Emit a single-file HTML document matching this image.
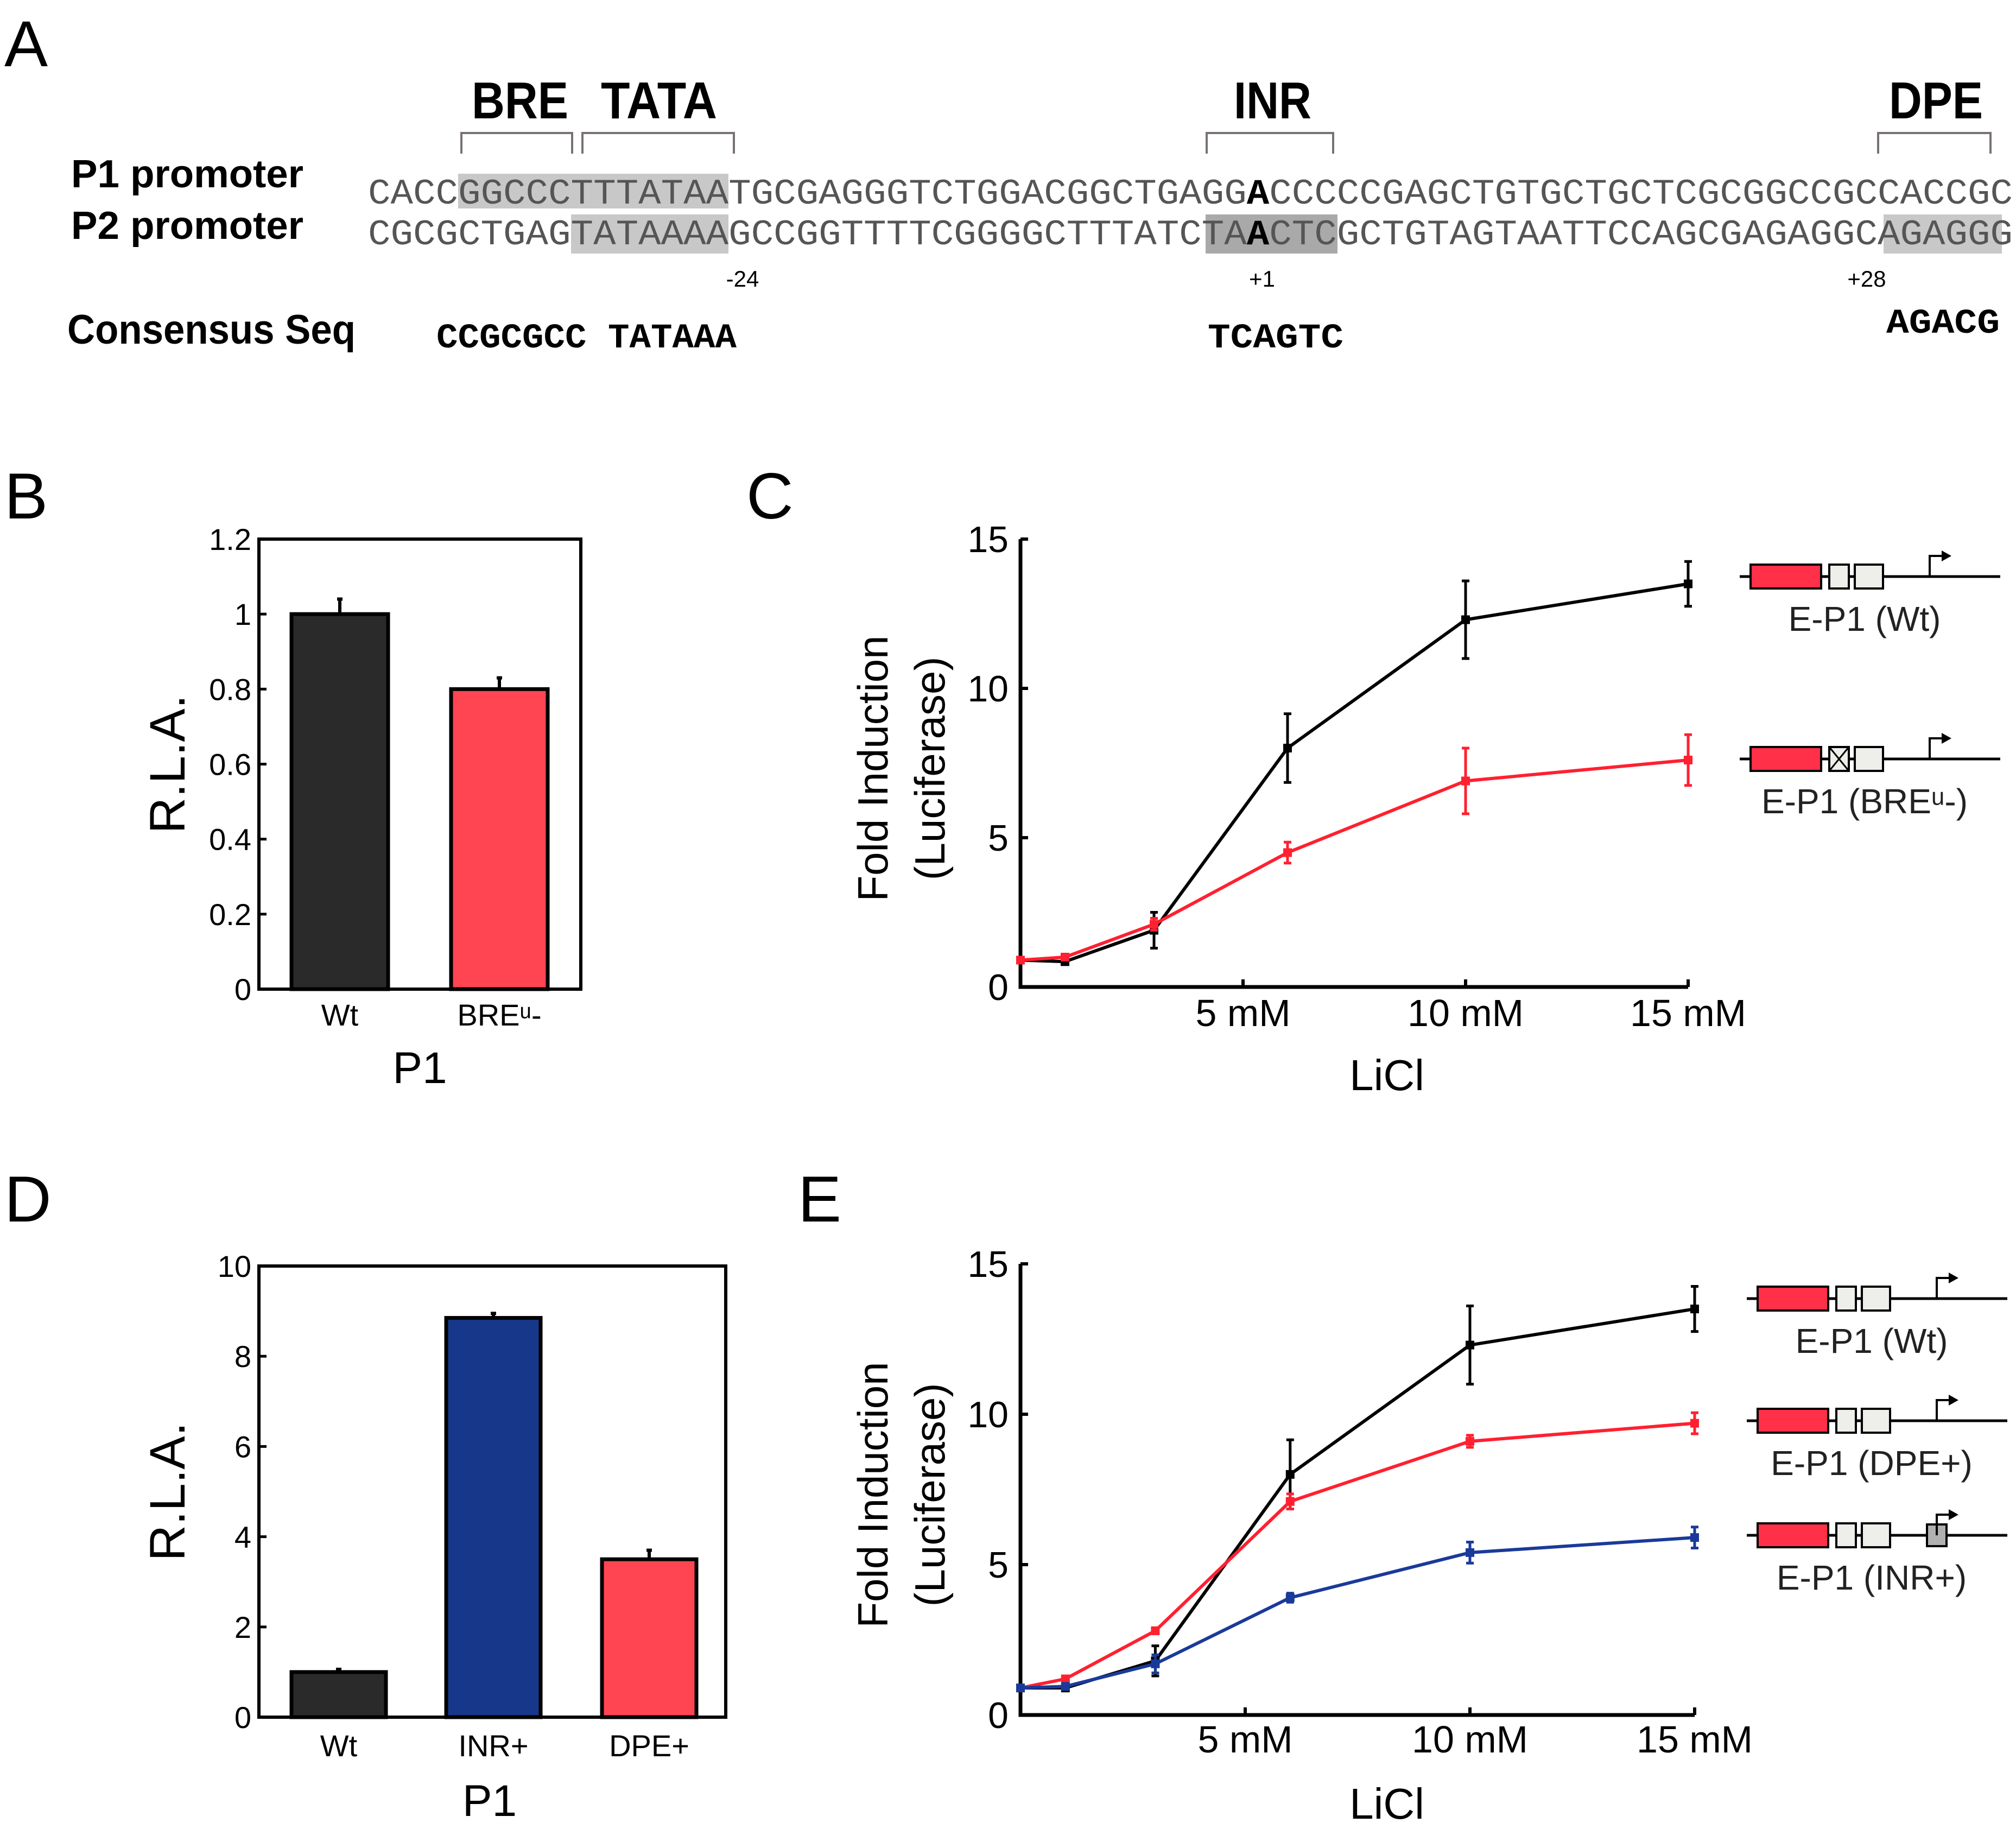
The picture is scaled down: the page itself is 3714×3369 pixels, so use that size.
<!DOCTYPE html>
<html><head><meta charset="utf-8"><style>
html,body{margin:0;padding:0;background:#fff}
svg{display:block}
text{font-family:"Liberation Sans",sans-serif}
.mono{font-family:"Liberation Mono",monospace}
</style></head><body>
<svg id="fig" width="3714" height="3369" viewBox="0 0 3714 3369" xmlns="http://www.w3.org/2000/svg">
<rect width="3714" height="3369" fill="#fff"/>
<!-- Panel letters -->
<text x="8" y="122" font-size="120">A</text>
<text x="8" y="955" font-size="120">B</text>
<text x="1375" y="955" font-size="120">C</text>
<text x="8" y="2250" font-size="120">D</text>
<text x="1470" y="2250" font-size="120">E</text>

<!-- Panel A -->
<g>
<text x="869" y="218" font-size="96" font-weight="bold" textLength="178" lengthAdjust="spacingAndGlyphs">BRE</text>
<text x="1107" y="218" font-size="96" font-weight="bold" textLength="214" lengthAdjust="spacingAndGlyphs">TATA</text>
<text x="2273" y="218" font-size="96" font-weight="bold" textLength="143" lengthAdjust="spacingAndGlyphs">INR</text>
<text x="3480" y="218" font-size="96" font-weight="bold" textLength="173" lengthAdjust="spacingAndGlyphs">DPE</text>
<g fill="none" stroke="#7a7272" stroke-width="4">
<path d="M850 283V245H1054V283"/><path d="M1073 283V245H1352V283"/><path d="M2223 283V245H2456V283"/><path d="M3460 283V245H3667V283"/>
</g>
<rect x="844" y="320" width="498" height="64" fill="#c8c8c8"/>
<rect x="1052" y="395" width="290" height="72" fill="#c8c8c8"/>
<rect x="2221" y="395" width="243" height="72" fill="#a9a9a9"/>
<rect x="3470" y="395" width="218" height="72" fill="#c8c8c8"/>
<text x="131" y="345" font-size="72" font-weight="bold" textLength="428" lengthAdjust="spacingAndGlyphs">P1 promoter</text>
<text x="131" y="440" font-size="72" font-weight="bold" textLength="428" lengthAdjust="spacingAndGlyphs">P2 promoter</text>
<text class="mono" x="678" y="375" font-size="66" fill="#555" textLength="3030" lengthAdjust="spacingAndGlyphs">CACCGGCCCTTTATAATGCGAGGGTCTGGACGGCTGAGG<tspan fill="#000" font-weight="bold">A</tspan>CCCCCGAGCTGTGCTGCTCGCGGCCGCCACCGC</text>
<text class="mono" x="678" y="450" font-size="66" fill="#555" textLength="3030" lengthAdjust="spacingAndGlyphs">CGCGCTGAGTATAAAAGCCGGTTTTCGGGGCTTTATCTA<tspan fill="#000" font-weight="bold">A</tspan>CTCGCTGTAGTAATTCCAGCGAGAGGCAGAGGG</text>
<text x="1368" y="528" font-size="42" text-anchor="middle">-24</text>
<text x="2325" y="528" font-size="42" text-anchor="middle">+1</text>
<text x="3439" y="528" font-size="42" text-anchor="middle">+28</text>
<text x="124" y="633" font-size="76" font-weight="bold" textLength="531" lengthAdjust="spacingAndGlyphs">Consensus Seq</text>
<text class="mono" x="804" y="640" font-size="64" font-weight="bold" textLength="553" lengthAdjust="spacingAndGlyphs">CCGCGCC TATAAA</text>
<text class="mono" x="2225" y="640" font-size="64" font-weight="bold" textLength="250" lengthAdjust="spacingAndGlyphs">TCAGTC</text>
<text class="mono" x="3475" y="613" font-size="64" font-weight="bold" textLength="209" lengthAdjust="spacingAndGlyphs">AGACG</text>
</g>

<g id="panelB"></g>
<g id="panelD"></g>
<g id="panelC"></g>
<g id="panelE"></g>

<!-- Legends / constructs -->
<g id="legends"></g>
</svg>
<script>
// ---- Data ----
const barBCategories = ["Wt", "BREᵘ-"];
const barBValues = [1.0, 0.8];
const barBErrors = [0.04, 0.03];
const barBTicks = ["0", "0.2", "0.4", "0.6", "0.8", "1", "1.2"];

const barDCategories = ["Wt", "INR+", "DPE+"];
const barDValues = [1.0, 8.85, 3.5];
const barDErrors = [0.06, 0.1, 0.2];
const barDTicks = ["0", "2", "4", "6", "8", "10"];

const doseX = [0, 1, 3, 6, 10, 15];
const lineTicksY = [0, 5, 10, 15];
const lineTicksX = [5, 10, 15];
const cWt = [0.9, 0.85, 1.9, 8.0, 12.3, 13.5];
const cWtErr = [0, 0.1, 0.6, 1.15, 1.3, 0.75];
const cBre = [0.9, 1.0, 2.1, 4.5, 6.9, 7.6];
const cBreErr = [0, 0.1, 0.2, 0.35, 1.1, 0.85];
const eWt = [0.9, 0.9, 1.8, 8.0, 12.3, 13.5];
const eWtErr = [0, 0.1, 0.5, 1.15, 1.3, 0.75];
const eDpe = [0.9, 1.2, 2.8, 7.1, 9.1, 9.7];
const eDpeErr = [0, 0.1, 0.1, 0.25, 0.2, 0.35];
const eInr = [0.9, 0.95, 1.7, 3.9, 5.4, 5.9];
const eInrErr = [0, 0.1, 0.3, 0.15, 0.35, 0.35];

const NS = "http://www.w3.org/2000/svg";
function mk(parent, tag, attrs, text) {
  const e = document.createElementNS(NS, tag);
  for (const k in attrs) e.setAttribute(k, attrs[k]);
  if (text !== undefined) e.textContent = text;
  parent.appendChild(e);
  return e;
}

function barChart(gid, box, ymax, cats, vals, errs, ticks, colors, barL, barW, rlaY, p1Y, catY) {
  const g = document.getElementById(gid);
  const y = v => box.b - (v / ymax) * (box.b - box.t);
  vals.forEach((v, i) => {
    const r = mk(g, 'rect', {x: barL[i], y: y(v), width: barW, height: box.b - y(v), fill: colors[i], stroke: '#000', 'stroke-width': 7});
    
    
    const cx = barL[i] + barW / 2;
    const eb = mk(g, 'path', {d: `M${cx} ${y(v)}V${y(v + errs[i])}M${cx - 5} ${y(v + errs[i])}H${cx + 5}`, stroke: '#000', 'stroke-width': 6, fill: 'none'});
    
    
    const t = mk(g, 'text', {x: cx, y: catY, 'font-size': 56, 'text-anchor': 'middle'}, cats[i]);
    
    
  });
  const fr = mk(g, 'rect', {x: box.l, y: box.t, width: box.r - box.l, height: box.b - box.t, fill: 'none', stroke: '#000', 'stroke-width': 6});
  
  
  ticks.forEach(tk => {
    const v = parseFloat(tk);
    mk(g, 'line', {x1: box.l, x2: box.l + 14, y1: y(v), y2: y(v), stroke: '#000', 'stroke-width': 5});
    const t = mk(g, 'text', {x: box.l - 14, y: y(v) + 20, 'font-size': 56, 'text-anchor': 'end'}, tk);
    
    
  });
  const yt = mk(g, 'text', {x: 0, y: 0, 'font-size': 92, 'text-anchor': 'middle', transform: `translate(340 ${(box.t + box.b) / 2}) rotate(-90)`}, 'R.L.A.');
  
  
  const xt = mk(g, 'text', {x: (box.l + box.r) / 2 + (gid === 'panelB' ? 0 : -5), y: p1Y, 'font-size': 82, 'text-anchor': 'middle'}, 'P1');
  
  
}

barChart('panelB', {l: 477, r: 1070, t: 993, b: 1822}, 1.2, barBCategories, barBValues, barBErrors, barBTicks,
  ['#2a2a2a', '#ff4452'], [537, 831], 178, 1354, 1995, 1889);
barChart('panelD', {l: 477, r: 1337, t: 2332, b: 3163}, 10, barDCategories, barDValues, barDErrors, barDTicks,
  ['#2a2a2a', '#16378a', '#ff4452'], [537, 822, 1109], 174, 2755, 3345, 3235);

function lineChart(gid, box, series, tickY, titleY) {
  const g = document.getElementById(gid);
  const x = v => box.l + (v / 15) * (box.r - box.l);
  const y = v => box.b - (v / 15) * (box.b - box.t);
  mk(g, 'path', {d: `M${box.l} ${box.t}V${box.b}H${box.r}`, stroke: '#000', 'stroke-width': 7, fill: 'none'});
  lineTicksY.forEach(v => {
    mk(g, 'line', {x1: box.l, x2: box.l + 14, y1: y(v), y2: y(v), stroke: '#000', 'stroke-width': 6});
    const t = mk(g, 'text', {x: box.l - 22, y: y(v) + 24, 'font-size': 68, 'text-anchor': 'end'}, String(v));
    
    
  });
  lineTicksX.forEach(v => {
    mk(g, 'line', {x1: x(v), x2: x(v), y1: box.b, y2: box.b - 14, stroke: '#000', 'stroke-width': 6});
    const t = mk(g, 'text', {x: x(v), y: tickY, 'font-size': 70, 'text-anchor': 'middle'}, v + ' mM');
    
    
  });
  const xt = mk(g, 'text', {x: 2555, y: titleY, 'font-size': 80, 'text-anchor': 'middle'}, 'LiCl');
  
  
  const cy = (box.t + box.b) / 2 + 10;
  const t1 = mk(g, 'text', {x: 0, y: 0, 'font-size': 78, 'text-anchor': 'middle', transform: `translate(1635 ${cy}) rotate(-90)`}, 'Fold Induction');
  
  
  const t2 = mk(g, 'text', {x: 0, y: 0, 'font-size': 78, 'text-anchor': 'middle', transform: `translate(1740 ${cy}) rotate(-90)`}, '(Luciferase)');
  
  
  series.forEach(s => {
    const d = s.vals.map((v, i) => (i ? 'L' : 'M') + x(doseX[i]) + ' ' + y(v)).join('');
    const p = mk(g, 'path', {d: d, stroke: s.color, 'stroke-width': 6, fill: 'none'});
    
    
    s.vals.forEach((v, i) => {
      const cx = x(doseX[i]), e = s.errs[i];
      if (e > 0) {
        const eb = mk(g, 'path', {d: `M${cx} ${y(v - e)}V${y(v + e)}M${cx - 7} ${y(v - e)}H${cx + 7}M${cx - 7} ${y(v + e)}H${cx + 7}`, stroke: s.color, 'stroke-width': 5, fill: 'none'});
        
        
      }
      const m = mk(g, 'rect', {x: cx - 8, y: y(v) - 8, width: 16, height: 16, fill: s.color});
      
      
    });
  });
}
lineChart('panelC', {l: 1880, r: 3110, t: 993, b: 1818}, [
  {name: 'wt', color: '#000', vals: cWt, errs: cWtErr},
  {name: 'bre-minus', color: '#ff2030', vals: cBre, errs: cBreErr}
], 1890, 2008);
lineChart('panelE', {l: 1880, r: 3122, t: 2328, b: 3159}, [
  {name: 'wt', color: '#000', vals: eWt, errs: eWtErr},
  {name: 'dpe-plus', color: '#ff2030', vals: eDpe, errs: eDpeErr},
  {name: 'inr-plus', color: '#1a3a9a', vals: eInr, errs: eInrErr}
], 3228, 3350);

// constructs
function construct(x0, yl, label, mid, inrBox) {
  const g = document.getElementById('legends');
  const c = mk(g, 'g', {});
  
  
  mk(c, 'line', {x1: x0 - 20, x2: x0 + 460, y1: yl, y2: yl, stroke: '#000', 'stroke-width': 5});
  mk(c, 'rect', {x: x0, y: yl - 22, width: 130, height: 44, fill: '#ff3048', stroke: '#000', 'stroke-width': 4});
  mk(c, 'rect', {x: x0 + 145, y: yl - 22, width: 36, height: 44, fill: '#eeeeea', stroke: '#000', 'stroke-width': 4});
  if (mid) mk(c, 'path', {d: `M${x0 + 145} ${yl - 22}L${x0 + 181} ${yl + 22}M${x0 + 181} ${yl - 22}L${x0 + 145} ${yl + 22}`, stroke: '#000', 'stroke-width': 3});
  mk(c, 'rect', {x: x0 + 192, y: yl - 22, width: 52, height: 44, fill: '#eeeeea', stroke: '#000', 'stroke-width': 4});
  if (inrBox) mk(c, 'rect', {x: x0 + 312, y: yl - 20, width: 36, height: 40, fill: '#b0b0b0', stroke: '#000', 'stroke-width': 4});
  mk(c, 'path', {d: `M${x0 + 330} ${yl}V${yl - 38}H${x0 + 355}`, stroke: '#000', 'stroke-width': 4, fill: 'none'});
  mk(c, 'path', {d: `M${x0 + 352} ${yl - 48}L${x0 + 370} ${yl - 38}L${x0 + 352} ${yl - 28}Z`, fill: '#000'});
  mk(c, 'text', {x: x0 + 210, y: yl + 100, 'font-size': 64, 'text-anchor': 'middle', fill: '#222'}, label);
}
construct(3225, 1062, 'E-P1 (Wt)', false, false);
construct(3225, 1398, 'E-P1 (BREᵘ-)', true, false);
construct(3238, 2392, 'E-P1 (Wt)', false, false);
construct(3238, 2617, 'E-P1 (DPE+)', false, false);
construct(3238, 2828, 'E-P1 (INR+)', false, true);
</script>
</body></html>
